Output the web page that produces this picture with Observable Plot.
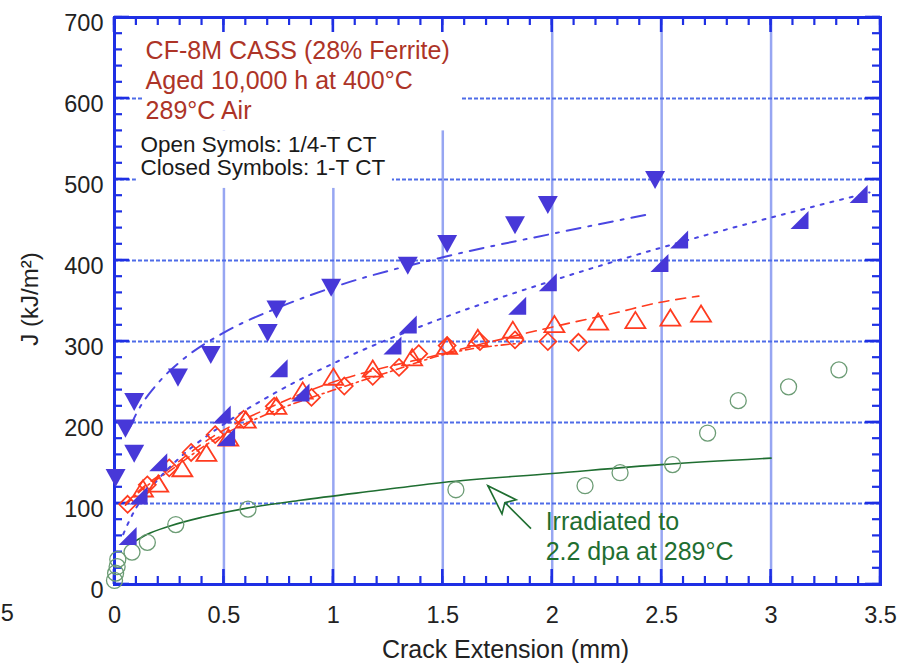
<!DOCTYPE html>
<html>
<head>
<meta charset="utf-8">
<script src="https://cdn.jsdelivr.net/npm/d3@7"></script>
<script src="https://cdn.jsdelivr.net/npm/@observablehq/plot@0.6"></script>
<style>
  body { margin: 0; background: #fff; }
  #chart svg { display: block; }
</style>
</head>
<body>
<div id="chart"></div>
<script>
// Closed symbols (1-T CT): downward triangles
const downX = [0.005, 0.05, 0.09, 0.09, 0.29, 0.44, 0.70, 0.74, 0.99, 1.34, 1.52, 1.83, 1.98, 2.47];
const downY = [132, 193, 162, 226, 256, 284, 311, 340, 367, 394, 421, 444, 469, 500];
// Closed symbols (1-T CT): right-angle wedges
const wedgeX = [0.06, 0.11, 0.2, 0.49, 0.51, 0.75, 0.85, 1.27, 1.34, 1.84, 1.98, 2.49, 2.58, 3.13, 3.40];
const wedgeY = [60, 110, 151, 210, 182, 267, 237, 295, 321, 344, 373, 397, 426, 450, 482];
// Open symbols (1/4-T CT): triangles
const triX = [0.13, 0.2, 0.31, 0.42, 0.52, 0.6, 0.74, 0.86, 1.0, 1.18, 1.36, 1.52, 1.66, 1.82, 2.01, 2.21, 2.38, 2.54, 2.68];
const triY = [118, 124, 143, 162, 181, 203, 220, 239, 256, 266, 280, 294, 304, 314, 321, 324, 326, 329, 334];
// Open symbols (1/4-T CT): diamonds
const diaX = [0.06, 0.15, 0.25, 0.35, 0.46, 0.59, 0.73, 0.9, 1.05, 1.18, 1.3, 1.39, 1.52, 1.67, 1.83, 1.98, 2.12];
const diaY = [99, 123, 144, 163, 185, 204, 220, 231, 245, 257, 268, 285, 295, 300, 302, 300, 299];
// Irradiated specimen: open circles
const irrX = [0.0, 0.005, 0.012, 0.015, 0.08, 0.15, 0.28, 0.61, 1.56, 2.15, 2.31, 2.55, 2.71, 2.85, 3.08, 3.31];
const irrY = [5, 14, 22, 31, 40, 52, 74, 93, 117, 122, 138, 148, 187, 227, 244, 265];

// Fitted J-R curves
const downFitX = [0.07, 0.1, 0.2, 0.3, 0.5, 0.75, 1, 1.5, 2, 2.46];
const downFitY = [194, 211, 249, 275, 311, 342, 367, 404, 433, 458];
const wedgeFitX = [0.04, 0.07, 0.1, 0.2, 0.3, 0.5, 0.75, 1, 1.5, 2, 2.5, 3, 3.45];
const wedgeFitY = [62, 80, 95, 130, 157, 198, 239, 273, 329, 375, 416, 453, 484];
const triFitX = [0.05, 0.13, 0.24, 0.44, 0.73, 1.0, 1.22, 1.41, 1.59, 1.83, 2.1, 2.3, 2.45, 2.67];
const triFitY = [100, 120, 141, 181, 221, 250, 267, 279, 291, 307, 324, 336, 346, 356];
const diaFitX = [0.05, 0.13, 0.24, 0.44, 0.73, 1.0, 1.25, 1.52, 1.86];
const diaFitY = [98, 118, 138, 176, 214, 240, 262, 285, 298];
const irrFitX = [0.08, 0.15, 0.25, 0.4, 0.6, 0.85, 1.2, 1.5, 2, 2.5, 3];
const irrFitY = [51, 62, 72, 83, 94, 104, 116, 126, 137, 148, 156];

// Axis ticks
const xMajor = [0, 0.5, 1, 1.5, 2, 2.5, 3, 3.5];
const xMinor = d3.range(0, 36).map(i => i / 10);
const yMajor = [0, 100, 200, 300, 400, 500, 600, 700];
const yMinor = d3.range(0, 36).map(i => i * 20);
const xGrid = [0.5, 1, 1.5, 2, 2.5, 3];
const yGrid = [100, 200, 300, 400, 500, 600];

// Text
const titleLines = ["CF-8M CASS (28% Ferrite)", "Aged 10,000 h at 400°C", "289°C Air"];
const keyLines = ["Open Symols: 1/4-T CT", "Closed Symbols: 1-T CT"];
const irrLines = ["Irradiated to", "2.2 dpa at 289°C"];
const xTitle = "Crack Extension (mm)";
const yTitle = "J (kJ/m²)";

// Colours
const frameBlue = "#1e2fe4";
const symBlue = "#4738d8";
const lineBlue = "#4a46e2";
const red = "#ff3b1f";
const green = "#1f6e31";
const circleGreen = "#6c9c75";

const W = 911, H = 665, mL = 114, mR = 31, mT = 17, mB = 81;
const xDom = [0, 3.5], yDom = [0, 700];
const minorLen = 8, majorLen = 15;

// Custom marker shapes
const rad = size => Math.sqrt(size / Math.PI);
const downTri = {draw(c, s) { const r = rad(s); c.moveTo(-r * 1.05, -r * 0.9); c.lineTo(r * 1.05, -r * 0.9); c.lineTo(0, r * 1.0); c.closePath(); }};
const wedge = {draw(c, s) { const r = rad(s); c.moveTo(r, -r); c.lineTo(r, r); c.lineTo(-r, r); c.closePath(); }};
const upTri = {draw(c, s) { const r = rad(s); c.moveTo(0, -r * 0.9); c.lineTo(r * 1.05, r * 0.8); c.lineTo(-r * 1.05, r * 0.8); c.closePath(); }};
const diamond = {draw(c, s) { const r = rad(s); c.moveTo(0, -r); c.lineTo(r, 0); c.lineTo(0, r); c.lineTo(-r, 0); c.closePath(); }};
// hollow barbed arrowhead, tip at the origin pointing up
const arrowHead = {draw(c, s) { const r = rad(s); c.moveTo(0, 0); c.lineTo(r, 3 * r); c.lineTo(0, 2.4 * r); c.lineTo(-r, 3 * r); c.closePath(); }};

const chart = Plot.plot({
  width: W,
  height: H,
  marginLeft: mL,
  marginRight: mR,
  marginTop: mT,
  marginBottom: mB,
  style: {fontFamily: "'Liberation Sans', Arial, sans-serif", color: "#222", background: "#fff"},
  x: {domain: xDom, label: null},
  y: {domain: yDom, label: null},
  marks: [
    // grid
    Plot.gridX(xGrid, {stroke: "#97a6f2", strokeOpacity: 1, strokeWidth: 2.5}),
    Plot.gridY(yGrid, {stroke: "#4f6ce8", strokeOpacity: 1, strokeWidth: 1.8, strokeDasharray: "4,2"}),
    // white panels behind the notes
    Plot.rect([0], {x1: 0.13, x2: 1.59, y1: 560, y2: 700, fill: "#fff"}),
    Plot.rect([0], {x1: 0.1, x2: 1.27, y1: 489, y2: 560, fill: "#fff"}),
    Plot.frame({stroke: frameBlue, strokeWidth: 3}),
    // tick labels
    Plot.axisX(xMajor, {anchor: "bottom", tickSize: 0, tickPadding: 22, fontSize: 23.5, fill: "#222", tickFormat: d => String(d), label: null}),
    Plot.axisY(yMajor, {anchor: "left", tickSize: 0, tickPadding: 11, dy: 6, fontSize: 23.5, fill: "#222", tickFormat: d => String(d), label: null}),
    Plot.text(["5"], {x: -0.52, y: 0, dy: 29, textAnchor: "start", fontSize: 23.5, fill: "#222"}),
    // axis titles
    Plot.text([xTitle], {frameAnchor: "bottom", textAnchor: "middle", lineAnchor: "middle", dx: 8, dy: 65, fontSize: 25, fill: "#222"}),
    Plot.text([yTitle], {frameAnchor: "left", textAnchor: "middle", lineAnchor: "middle", rotate: -90, dx: -84, dy: -2, fontSize: 24, fill: "#222"}),

    // fitted curves
    Plot.line(irrFitX, {x: irrFitX, y: irrFitY, curve: "monotone-x", stroke: green, strokeWidth: 1.6}),
    Plot.line(diaFitX, {x: diaFitX, y: diaFitY, curve: "monotone-x", stroke: red, strokeWidth: 1.6, strokeDasharray: "8,4,2,4"}),
    Plot.line(triFitX, {x: triFitX, y: triFitY, curve: "monotone-x", stroke: red, strokeWidth: 1.6, strokeDasharray: "10,7"}),
    Plot.line(wedgeFitX, {x: wedgeFitX, y: wedgeFitY, curve: "monotone-x", stroke: lineBlue, strokeWidth: 2, strokeDasharray: "3,7"}),
    Plot.line(downFitX, {x: downFitX, y: downFitY, curve: "monotone-x", stroke: lineBlue, strokeWidth: 2, strokeDasharray: "14,8,3,8"}),

    // data points
    Plot.dot(irrX, {x: irrX, y: irrY, r: 8, symbol: "circle", fill: "none", stroke: circleGreen, strokeWidth: 1.3}),
    Plot.dot(diaX, {x: diaX, y: diaY, r: 8.5, symbol: diamond, fill: "none", stroke: red, strokeWidth: 1.7}),
    Plot.dot(triX, {x: triX, y: triY, r: 9.5, symbol: upTri, fill: "none", stroke: red, strokeWidth: 1.8}),
    Plot.dot(wedgeX, {x: wedgeX, y: wedgeY, r: 9, symbol: wedge, fill: symBlue, stroke: "none"}),
    Plot.dot(downX, {x: downX, y: downY, r: 9.5, symbol: downTri, fill: symBlue, stroke: "none"}),

    // notes
    Plot.text(titleLines, {x: 0.142, y: (d, i) => 659 - i * 37, textAnchor: "start", fontSize: 25, fill: "#ad3427"}),
    Plot.text(keyLines, {x: 0.119, y: (d, i) => 543 - i * 29, textAnchor: "start", fontSize: 22.5, fill: "#1a1a1a"}),
    Plot.text(irrLines, {x: 1.97, y: (d, i) => 77 - i * 37, textAnchor: "start", fontSize: 25, fill: green}),
    Plot.link([0], {x1: 1.903, y1: 69, x2: 1.706, y2: 122, stroke: green, strokeWidth: 1.6}),
    Plot.dot([0], {x: 1.706, y: 122, r: 10, symbol: arrowHead, rotate: -45, fill: "#fff", stroke: green, strokeWidth: 1.6})
  ]
});

// Inward tick marks on all four sides, positioned with the chart's own scales
const sx = chart.scale("x"), sy = chart.scale("y");
const ticks = d3.create("svg:g").attr("stroke", frameBlue).attr("fill", "none");
const xb = sy.apply(yDom[0]), xt = sy.apply(yDom[1]);
const yl = sx.apply(xDom[0]), yr = sx.apply(xDom[1]);
const addX = (values, len, w) => values.forEach(v => {
  const px = sx.apply(v);
  ticks.append("line").attr("x1", px).attr("x2", px).attr("y1", xb).attr("y2", xb - len).attr("stroke-width", w);
  ticks.append("line").attr("x1", px).attr("x2", px).attr("y1", xt).attr("y2", xt + len).attr("stroke-width", w);
});
const addY = (values, len, w) => values.forEach(v => {
  const py = sy.apply(v);
  ticks.append("line").attr("y1", py).attr("y2", py).attr("x1", yl).attr("x2", yl + len).attr("stroke-width", w);
  ticks.append("line").attr("y1", py).attr("y2", py).attr("x1", yr).attr("x2", yr - len).attr("stroke-width", w);
});
addX(xMinor, minorLen, 2.2);
addX(xMajor, majorLen, 2.6);
addY(yMinor, minorLen, 2.2);
addY(yMajor, majorLen, 2.6);
const frameEl = chart.querySelector('[aria-label="frame"]');
if (frameEl) frameEl.parentNode.insertBefore(ticks.node(), frameEl);
else chart.appendChild(ticks.node());

document.getElementById("chart").appendChild(chart);
</script>
</body>
</html>
